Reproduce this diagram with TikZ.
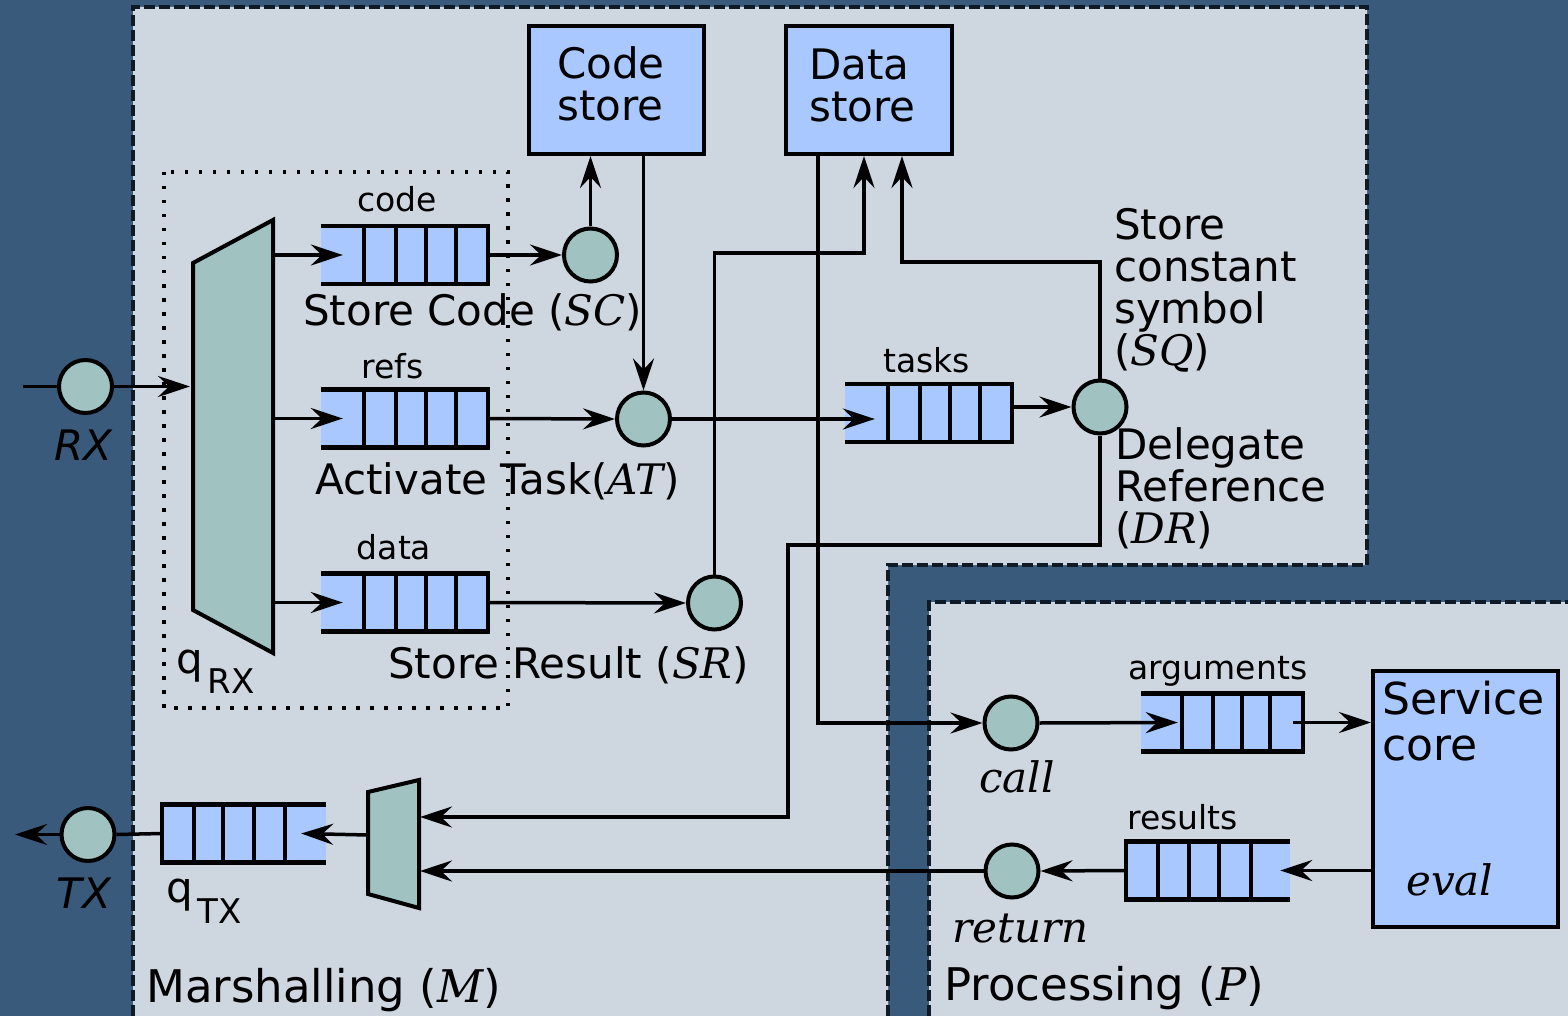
\documentclass[tikz,border=0pt]{standalone}
\usepackage{fontspec}
\setmainfont{DejaVu Sans}
\newfontfamily\varfont{DejaVu Serif}
\usetikzlibrary{positioning}
\usetikzlibrary{arrows.meta}
\definecolor{bgdark}{RGB}{58,90,124}
\definecolor{panelgray}{RGB}{206,214,224}
\definecolor{boxblue}{RGB}{168,200,255}
\definecolor{tealgray}{RGB}{160,194,192}
\definecolor{borderdark}{RGB}{14,26,37}
\newcommand{\mv}[1]{{\varfont\itshape #1}}
\newcommand{\subsize}{\fontsize{34}{34}\selectfont}
\tikzset{
    procnode/.style = {circle, line width=4pt, draw=black, fill=tealgray, minimum size=53pt, inner sep=0pt},
    storenode/.style = {rectangle, line width=4pt, draw=black, fill=boxblue},
    queuenode/.style = {rectangle, fill=boxblue, minimum width=167pt, minimum height=58pt, inner sep=0pt},
    qline/.style = {line width=4.5pt, black},
    muxshape/.style = {line width=4pt, draw=black, fill=tealgray, line join=miter},
    edgen/.style = {-, line width=3.5pt, black},
    edgea/.style = {-{Stealth[length=32pt,width=21pt,inset=11pt]}, line width=3.5pt, black},
    border/.style = {line width=3.5pt, borderdark, dash pattern=on 11pt off 4pt},
    dotbox/.style = {line width=3.5pt, black, dash pattern=on 3.5pt off 10.5pt},
    bigtext/.style = {inner sep=0pt, align=left, font=\fontsize{42}{42}\selectfont},
    smalltext/.style = {inner sep=0pt, font=\fontsize{33}{34}\selectfont},
    coretext/.style = {inner sep=0pt, align=left, font=\fontsize{44}{46}\selectfont},
    titletext/.style = {inner sep=0pt, font=\fontsize{45}{46}\selectfont}
}
\begin{document}
\begin{tikzpicture}[x=1pt, y=-1pt]
  % background and the two panels
  \fill[bgdark] (0,0) rectangle (1568,1016);
  \useasboundingbox (0,0) rectangle (1568,1016);
  \fill[panelgray] (133,7) -- (1367,7) -- (1367,565) -- (888,565) -- (888,1016) -- (133,1016) -- cycle;
  \draw[border] (133,1016) -- (133,7) -- (1367,7) -- (1367,565) -- (888,565) -- (888,1016);
  \fill[panelgray] (929,602) rectangle (1568,1016);
  \draw[border] (929,1016) -- (929,602) -- (1568,602);
  \draw[dotbox] (164,172) rectangle (508,708);

  % demux and mux
  \draw[muxshape] (193,263) -- (273,220) -- (273,653) -- (193,610) -- cycle;
  \draw[muxshape] (368,792) -- (419,780) -- (419,908) -- (368,894) -- cycle;
  \coordinate (dmin) at (190,386.5);
  \coordinate (dmcode) at (273,255);
  \coordinate (dmrefs) at (273,418.5);
  \coordinate (dmdata) at (273,602.5);
  \coordinate (muxdel) at (420,817);
  \coordinate (muxret) at (420,871);
  \coordinate (muxout) at (368,835);
  \coordinate (rxin) at (23,386.5);
  \coordinate (txout) at (15,834.5);

  % stores
  \node[storenode, minimum width=175pt, minimum height=128pt] (codestore) at (616.5,90) {};
  \node[storenode, minimum width=166pt, minimum height=128pt] (datastore) at (869,90) {};
  \node[storenode, minimum width=185pt, minimum height=256pt] (core) at (1465.5,799) {};
  \node[bigtext, anchor=base west] (lcodestore) at (557,121) {Code\\store};
  \node[bigtext, anchor=base west] (ldatastore) at (809,122) {Data\\store};

  % queues
  \node[queuenode] (qcode) at (404.5,255) {};
  \node[queuenode] (qrefs) at (404.5,418.5) {};
  \node[queuenode] (qdata) at (404.5,602.5) {};
  \node[queuenode] (qtasks) at (928.5,413) {};
  \node[queuenode, minimum width=162pt] (qargs) at (1222,722.5) {};
  \node[queuenode, minimum width=164pt] (qres) at (1208,870.5) {};
  \node[queuenode, minimum width=164pt] (qtx) at (244,833.5) {};
  \foreach \q in {qcode,qrefs,qdata,qtasks} {
    \draw[qline] (\q.north west) -- (\q.north east) -- (\q.south east) -- (\q.south west);
    \foreach \d in {43,75,105,135}
      \draw[qline] ([xshift=\d]\q.north west) -- ([xshift=\d]\q.south west);
  }
  \draw[qline] (qargs.north west) -- (qargs.north east) -- (qargs.south east) -- (qargs.south west);
  \foreach \d in {41,72,101,129}
    \draw[qline] ([xshift=\d]qargs.north west) -- ([xshift=\d]qargs.south west);
  \draw[qline] (qres.north east) -- (qres.north west) -- (qres.south west) -- (qres.south east);
  \foreach \d in {32,63,93,125}
    \draw[qline] ([xshift=\d]qres.north west) -- ([xshift=\d]qres.south west);
  \draw[qline] (qtx.north east) -- (qtx.north west) -- (qtx.south west) -- (qtx.south east);
  \foreach \d in {32,61,92,123}
    \draw[qline] ([xshift=\d]qtx.north west) -- ([xshift=\d]qtx.south west);

  % actions
  \node[procnode] (rx) at (85.5,386.5) {};
  \node[procnode] (sc) at (590.5,255) {};
  \node[procnode] (act) at (643.5,419) {};
  \node[procnode] (sr) at (714.5,603) {};
  \node[procnode] (dr) at (1100,407) {};
  \node[procnode] (call) at (1011,723) {};
  \node[procnode] (ret) at (1012,871) {};
  \node[procnode] (tx) at (88,834.5) {};

  % connectors
  \draw[edgen] (rxin) -- (rx.west);
  \draw[edgea] (rx.east) -- (dmin);
  \draw[edgea] (dmcode) -- ([xshift=22]qcode.west);
  \draw[edgea] (dmrefs) -- ([xshift=22]qrefs.west);
  \draw[edgea] (dmdata) -- ([xshift=22]qdata.west);
  \draw[edgea] (qcode.east) -- (sc.west);
  \draw[edgea] (sc.north) -- (sc.north |- codestore.south);
  \draw[edgea] (act.north |- codestore.south) -- (act.north);
  \draw[edgea] (qrefs.east) -- (act.west);
  \draw[edgea] (act.east) -- ([xshift=30]qtasks.west |- act.east);
  \draw[edgea] (qtasks.east |- dr.west) -- (dr.west);
  \draw[edgea] (qdata.east) -- (sr.west);
  \draw[edgea] (sr.north) |- (864,253) -- ([xshift=-5]datastore.south);
  \draw[edgea] (dr.north) |- (902,262) -- ([xshift=33]datastore.south);
  \draw[edgea] (dr.south) |- (788,545) |- (muxdel);
  \draw[edgea] ([xshift=-51]datastore.south) |- (call.west);
  \draw[edgea] (call.east) -- ([xshift=37]qargs.west);
  \draw[edgea] ([xshift=-10]qargs.east) -- (core.west |- qargs.east);
  \draw[edgea] (core.west |- qres.east) -- ([xshift=-10]qres.east);
  \draw[edgea] (qres.west) -- (ret.east);
  \draw[edgea] (ret.west) -- (muxret);
  \draw[edgea] (muxout) -- ([xshift=-25]qtx.east);
  \draw[edgen] (qtx.west) -- (tx.east);
  \draw[edgea] (tx.west) -- (txout);

  % labels
  \node[smalltext, anchor=base] (lcode) at (397,212) {code};
  \node[smalltext, anchor=base] (lrefs) at (392.5,378) {refs};
  \node[smalltext, anchor=base] (ldata) at (394,559) {data};
  \node[smalltext, anchor=base] (ltasks) at (926.5,372) {tasks};
  \node[smalltext, anchor=base] (largs) at (1218,679) {arguments};
  \node[smalltext, anchor=base] (lres) at (1182.5,829) {results};
  \node[bigtext, anchor=base west] (lsc) at (303,325) {Store Code (\mv{SC})};
  \node[bigtext, anchor=base west] (lat) at (315,494) {Activate Task(\mv{AT})};
  \node[bigtext, anchor=base west] (lsr) at (388,678) {Store Result (\mv{SR})};
  \node[bigtext, anchor=base west] (lsq) at (1114,365) {Store\\constant\\symbol\\(\mv{SQ})};
  \node[bigtext, anchor=base west] (ldr) at (1115,543) {Delegate\\Reference\\(\mv{DR})};
  \node[bigtext, anchor=base] (lrx) at (83,460) {\itshape RX};
  \node[bigtext, anchor=base] (ltx) at (84,908) {\itshape TX};
  \node[bigtext, anchor=base west] (lqrx) at (176,673) {q\hspace{5pt}\raisebox{-20pt}{\subsize RX}};
  \node[bigtext, anchor=base west] (lqtx) at (166,902) {q\hspace{5pt}\raisebox{-21pt}{\subsize TX}};
  \node[bigtext, anchor=base west] (lcall) at (979,792) {\mv{call}};
  \node[bigtext, anchor=base west] (lret) at (952,942) {\mv{return}};
  \node[bigtext, anchor=base west] (leval) at (1406,895) {\mv{eval}};
  \node[coretext, anchor=base west] (lcore) at (1382,760) {Service\\core};
  \node[titletext, anchor=base west] (lmarsh) at (146,1002) {Marshalling (\mv{M})};
  \node[titletext, anchor=base west] (lproc) at (944,1000) {Processing (\mv{P})};
\end{tikzpicture}
\end{document}
